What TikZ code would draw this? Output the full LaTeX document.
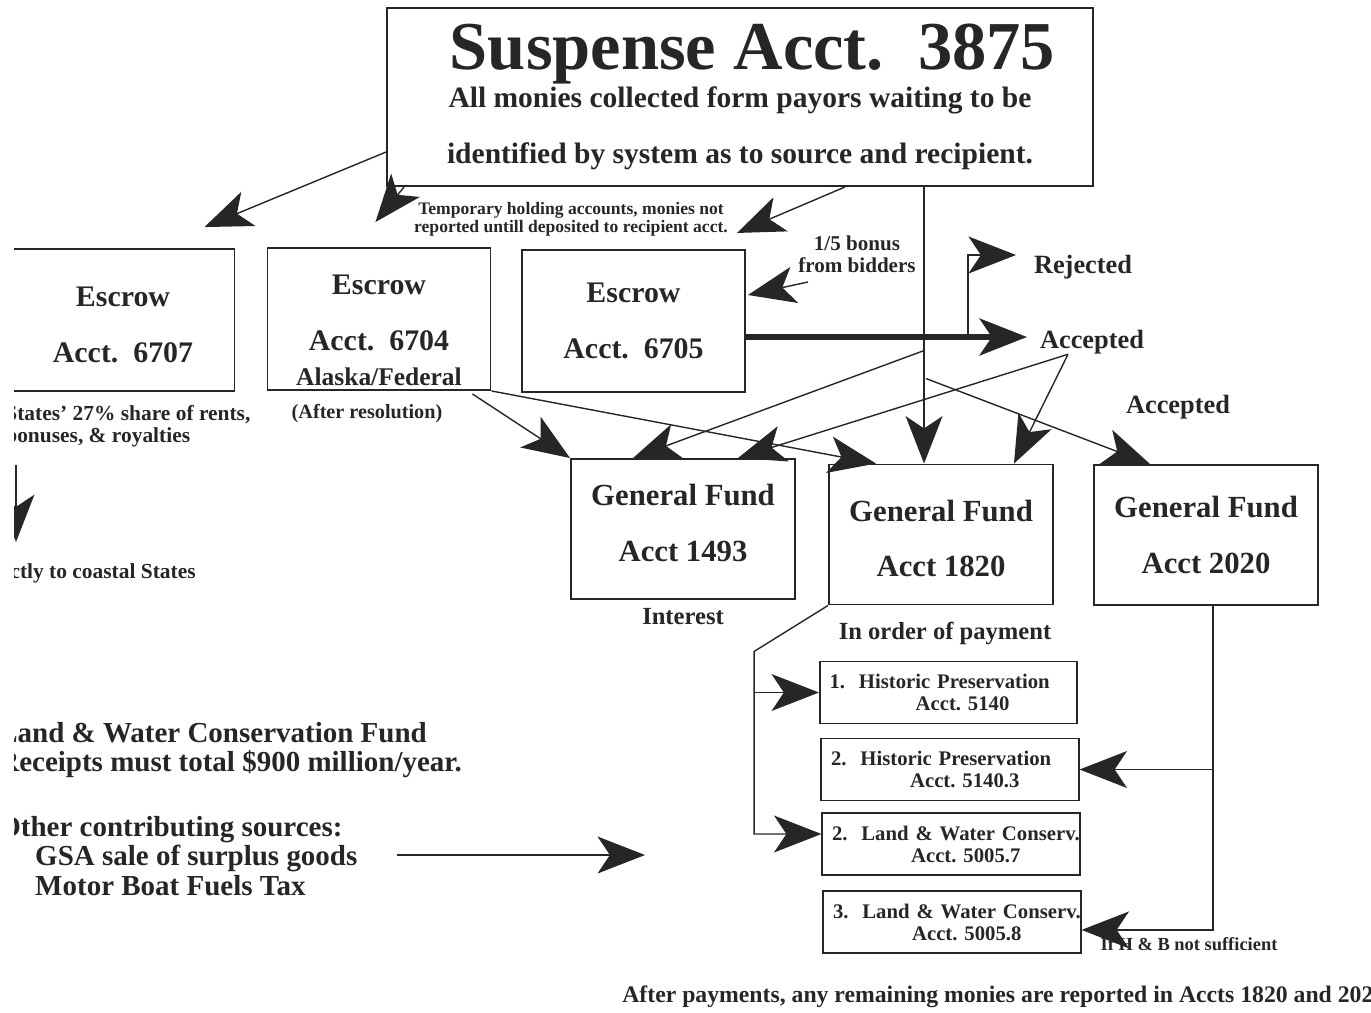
\documentclass[tikz,border=0pt]{standalone}
\usepackage{fontspec}
\setmainfont{Liberation Serif}
\usetikzlibrary{arrows.meta,positioning,calc}
\definecolor{acctInk}{RGB}{38,38,38}
\newcommand{\acfont}[2]{\fontsize{#1}{#2}\selectfont\bfseries}

\begin{document}
\begin{tikzpicture}[
    x=0.02cm, y=-0.02cm,
    acct/.style={rectangle, draw=acctInk, line width=1.1pt, inner sep=0pt,
                 align=center, text=acctInk},
    esc/.style={acct, minimum width=4.46cm, minimum height=2.84cm, font=\acfont{17}{32}},
    fund/.style={acct, minimum width=4.48cm, minimum height=2.8cm, font=\acfont{17.5}{31.7}},
    pay/.style={rectangle, draw=acctInk, line width=1pt, inner xsep=5.5pt, inner ysep=0pt,
                text width=4.76cm, minimum height=1.24cm, align=left, text=acctInk,
                font=\acfont{11.8}{12.5}},
    txt/.style={text=acctInk, inner sep=0pt},
    arr/.style={-{Stealth[length=27pt,width=21pt,inset=7pt]}, acctInk, line width=0.8pt},
    wire/.style={acctInk, line width=0.8pt}
  ]
  \useasboundingbox (0,0) rectangle (1371,1012);
  \begin{scope}
  \clip (14,0) rectangle (1371,1012);

  % accounts
  \node[acct, minimum width=14.12cm, minimum height=3.56cm, font=\acfont{16.8}{21.5}] (susp) at (740,97)
    {{\acfont{39}{39}\hspace*{0.5cm}Suspense Acct.\ \ 3875}\\
     All monies collected form payors waiting to be\\[10.2pt]
     identified by system as to source and recipient.};
  \node[esc] (e6707) at (123,320) {\rule{0pt}{17pt}Escrow\\Acct.\ \ 6707};
  \node[esc] (e6704) at (379,319) {\rule{0pt}{23.7pt}Escrow\\Acct.\ \ 6704\\[-12pt]{\acfont{14.5}{14.5}Alaska/Federal}};
  \node[esc] (e6705) at (633.5,321) {Escrow\\Acct.\ \ 6705};
  \node[fund] (gf1493) at (683,529)   {General Fund\\Acct 1493\rule[-6.8pt]{0pt}{0pt}};
  \node[fund] (gf1820) at (941,534.5) {\rule{0pt}{16.5pt}General Fund\\Acct 1820};
  \node[fund] (gf2020) at (1206,535)  {General Fund\\Acct 2020};

  \node[pay] (hp5140)  at (948.5,692.5) {\mbox{1.\ \ Historic Preservation}\\\hspace*{49pt}Acct.\ 5140};
  \node[pay] (hp51403) at (950,769.5)   {\mbox{2.\ \ Historic Preservation}\\\hspace*{45pt}Acct.\ 5140.3};
  \node[pay] (lw50057) at (951,844)     {\mbox{2.\ \ Land \& Water Conserv.}\\\hspace*{45pt}Acct.\ 5005.7};
  \node[pay] (lw50058) at (952,922)     {\mbox{3.\ \ Land \& Water Conserv.}\\\hspace*{45pt}Acct.\ 5005.8};

  % labels
  \node[txt, font=\acfont{10}{10.2}, align=center] (tmp) at (571,219)
    {Temporary holding accounts, monies not\\reported untill deposited to recipient acct.};
  \node[txt, font=\acfont{12}{12.5}, align=center] (bonus) at (857,254) {1/5 bonus\\from bidders};
  \node[txt, font=\acfont{15}{15}] (rej)  at (1083,267) {Rejected};
  \node[txt, font=\acfont{15}{15}] (acc1) at (1092,342) {Accepted};
  \node[txt, font=\acfont{15}{15}] (acc2) at (1178,407) {Accepted};
  \node[txt, font=\acfont{11.5}{11.5}] (after) at (367,414) {(After resolution)};
  \node[txt, font=\acfont{12.2}{12.5}, align=left, anchor=west] (states) at (5,426)
    {States' 27\% share of rents,\\bonuses, \& royalties};
  \node[txt, font=\acfont{12.2}{12.5}, anchor=east] (coast) at (196,573) {directly to coastal States};
  \node[txt, font=\acfont{14}{14}] (interest) at (683,617) {Interest};
  \node[txt, font=\acfont{14}{14}] (order) at (945,633) {In order of payment};
  \node[txt, font=\acfont{16.5}{17}, align=left, anchor=west] (lwcf) at (-2,750)
    {Land \& Water Conservation Fund\\Receipts must total \$900 million/year.};
  \node[txt, font=\acfont{16.5}{17}, align=left, anchor=west] (other) at (-2,856)
    {Other contributing sources:\\\hspace*{21pt}GSA sale of surplus goods\\\hspace*{21pt}Motor Boat Fuels Tax};
  \node[txt, font=\acfont{10.5}{10.5}] (insuff) at (1189,944) {If H \& B not sufficient};
  \node[txt, font=\acfont{13.5}{13.5}, anchor=west] (payout) at (622,997)
    {After payments, any remaining monies are reported in Accts 1820 and 2020.};

  \coordinate (gtop) at ($(gf1820.north west)+(96,0)$);
  \coordinate (vA) at ($(gtop)+(0,-113)$);
  \coordinate (vC) at ($(gtop)+(2,-85)$);
  \coordinate (jn) at (968,337);
  \coordinate (rejtip) at (1016,255);
  \coordinate (acctip) at (1027,337);
  \coordinate (bend) at ($(gf1820.south west)+(-74,46)$);
  \coordinate (drop) at ($(gf2020.south)+(7,0)$);
  \coordinate (coastTop) at (16,465);
  \coordinate (coastTip) at (16,542);
  \coordinate (gsaL) at (397,855);
  \coordinate (gsaR) at (645,855);

  % out of suspense
  \draw[arr] ($(susp.west)+(0,55)$) -- ($(e6707.north east)+(-31,-21)$);
  \draw[arr] ($(susp.south west)+(18,0)$) -- ($(e6704.north east)+(-116,-25)$);
  \draw[arr] ($(susp.south)+(105,0)$) -- ($(susp.south)+(-3,46)$);
  \draw[arr] (susp.south -| gtop) -- (gtop);
  \draw[arr] ($(e6705.east)+(62,-39)$) -- ($(e6705.east)+(2,-26)$);

  % bids
  \draw[arr, line width=3.4pt] ($(e6705.east)+(0,16)$) -- (acctip);
  \draw[arr, line width=1.6pt] (jn) |- (rejtip);

  % into general funds
  \draw[arr] ($(e6704.south east)+(-19,3)$) -- (gf1493.north west);
  \draw[arr] (e6704.south east) -- ($(gf1820.north west)+(48,0)$);
  \draw[arr] (vA) -- ($(gf1493.north)+(-50,0)$);
  \draw[arr] ($(acc1.south)+(-24,0)$) -- ($(gf1493.north east)+(-58,0)$);
  \draw[arr] ($(acc1.south)+(-24,0)$) -- ($(gf1820.north east)+(-40,0)$);
  \draw[arr] (vC) -- ($(gf2020.north west)+(57,0)$);
  \draw[arr] (coastTop) -- (coastTip);

  % payments
  \draw[arr] (gf1820.south west) -- (bend) |- ([yshift=5.7pt]lw50057.west);
  \draw[arr] (bend |- hp5140.west) -- (hp5140.west);
  \draw[arr] (drop) |- (hp51403.east);
  \draw[arr] (drop) |- ([yshift=-4.5pt]lw50058.east);
  \draw[arr] (gsaL) -- (gsaR);
  \end{scope}
\end{tikzpicture}
\end{document}
